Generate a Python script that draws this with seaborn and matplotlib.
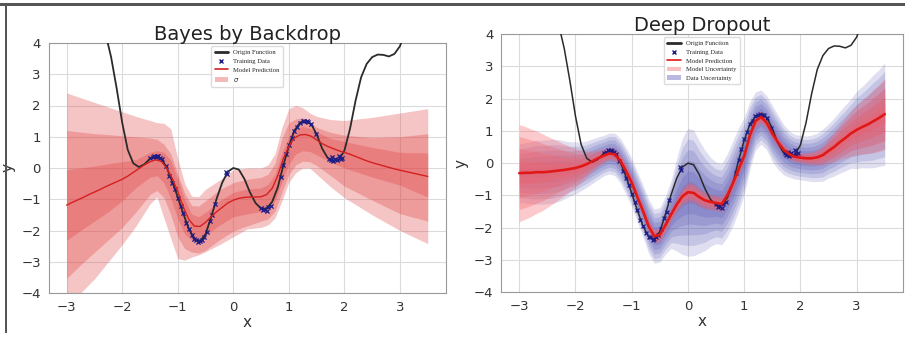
import numpy as np
import pandas as pd
import matplotlib
matplotlib.use("Agg")
import matplotlib.pyplot as plt
import seaborn as sns
from matplotlib.lines import Line2D
from matplotlib.patches import Patch, Rectangle

# ---------------- data ----------------
x_grid = np.round(np.arange(-3.0, 3.501, 0.1), 2)

origin_y = [12.0, 10.5, 9.1, 7.9, 6.8, 5.8, 5.0, 4.3, 3.55, 2.55,
            1.45, 0.58, 0.15, 0.03, 0.12, 0.3, 0.38, 0.3, 0.02, -0.43,
            -0.93, -1.46, -1.95, -2.27, -2.35, -2.12, -1.58, -0.98, -0.47, -0.12,
            0.0, -0.05, -0.35, -0.78, -1.12, -1.3, -1.3, -1.08, -0.62, 0.08,
            0.7, 1.2, 1.45, 1.52, 1.41, 1.08, 0.62, 0.32, 0.23, 0.26,
            0.56, 1.25, 2.15, 2.9, 3.33, 3.55, 3.63, 3.62, 3.57, 3.65,
            3.9, 4.4, 5.1, 5.9, 6.8, 7.8]

bbb_mean = [-1.19, -1.1, -1.02, -0.94, -0.85, -0.77, -0.69, -0.6, -0.52, -0.44,
            -0.36, -0.26, -0.14, -0.02, 0.1, 0.2, 0.26, 0.22, 0.0, -0.33,
            -0.75, -1.25, -1.65, -1.86, -1.87, -1.74, -1.56, -1.4, -1.26, -1.12,
            -1.03, -0.97, -0.94, -0.93, -0.93, -0.92, -0.85, -0.65, -0.25, 0.3,
            0.7, 0.96, 1.06, 1.07, 1.02, 0.9, 0.78, 0.69, 0.62, 0.55,
            0.5, 0.44, 0.37, 0.3, 0.23, 0.17, 0.12, 0.07, 0.02, -0.03,
            -0.07, -0.11, -0.15, -0.19, -0.23, -0.27]

# band edges of the Bayes-by-Backprop panel (1, 2, 3 sigma)
band_x = [-3, -2.75, -2.5, -2.25, -2, -1.75, -1.5, -1.375, -1.25, -1.125,
          -1, -0.875, -0.75, -0.625, -0.5, -0.25, 0, 0.25, 0.5, 0.625,
          0.75, 0.875, 1, 1.125, 1.25, 1.375, 1.5, 1.75, 2, 2.5, 3, 3.5]
band_up3 = [2.4, 2.25, 2.1, 1.95, 1.8, 1.65, 1.52, 1.45, 1.43, 1.25,
            0.3, -0.5, -0.9, -0.92, -0.68, -0.39, -0.06, 0.0, 0.0, 0.1,
            0.45, 1.3, 1.9, 2.0, 1.93, 1.76, 1.65, 1.55, 1.52, 1.62, 1.76, 1.9]
band_up2 = [1.2, 1.15, 1.1, 1.07, 1.03, 1.0, 0.96, 0.92, 0.76, 0.45,
            -0.2, -0.8, -1.2, -1.22, -1.05, -0.7, -0.47, -0.36, -0.3, -0.2,
            0.15, 0.95, 1.45, 1.57, 1.61, 1.45, 1.3, 1.14, 1.05, 0.97, 1.0, 1.1]
band_up1 = [-0.06, 0.0, 0.06, 0.14, 0.2, 0.27, 0.5, 0.56, 0.5, 0.25,
            -0.35, -1.0, -1.48, -1.56, -1.42, -1.05, -0.78, -0.67, -0.64, -0.52,
            -0.2, 0.48, 1.02, 1.27, 1.33, 1.27, 1.15, 0.95, 0.85, 0.66, 0.5, 0.48]
band_lo1 = [-2.31, -2.0, -1.7, -1.4, -1.05, -0.62, -0.3, -0.24, -0.47, -0.98,
            -1.62, -2.12, -2.3, -2.31, -2.16, -1.83, -1.56, -1.47, -1.39, -1.32,
            -1.05, -0.45, 0.12, 0.45, 0.55, 0.53, 0.42, 0.18, 0.0, -0.29, -0.55, -0.93]
band_lo2 = [-3.53, -3.1, -2.7, -2.3, -1.9, -1.4, -0.85, -0.72, -0.95, -1.5,
            -2.2, -2.58, -2.69, -2.72, -2.63, -2.3, -2.02, -1.85, -1.7, -1.63,
            -1.38, -0.78, -0.2, 0.1, 0.22, 0.2, 0.08, -0.24, -0.58, -1.03, -1.46, -1.7]
band_lo3 = [-4.8, -4.0, -3.55, -3.0, -2.45, -1.85, -1.15, -0.92, -1.6, -2.25,
            -2.9, -2.95, -2.85, -2.78, -2.68, -2.45, -2.2, -1.95, -1.9, -1.82,
            -1.6, -1.05, -0.45, -0.15, 0.0, 0.0, -0.2, -0.6, -0.95, -1.5, -2.0, -2.42]

dd_mean = [-0.31, -0.30, -0.30, -0.28, -0.28, -0.27, -0.25, -0.23, -0.21, -0.18,
           -0.15, -0.10, -0.03, 0.06, 0.15, 0.23, 0.30, 0.27, 0.07, -0.25,
           -0.60, -1.05, -1.48, -1.95, -2.26, -2.22, -1.92, -1.59, -1.28, -1.03,
           -0.90, -0.92, -1.05, -1.15, -1.20, -1.23, -1.27, -1.00, -0.62, -0.20,
           0.22, 0.85, 1.30, 1.43, 1.25, 0.92, 0.65, 0.42, 0.28, 0.20,
           0.17, 0.15, 0.15, 0.18, 0.25, 0.38, 0.50, 0.65, 0.78, 0.92,
           1.03, 1.12, 1.20, 1.30, 1.40, 1.52]
dd_model_sd = [0.75, 0.72, 0.68, 0.64, 0.6, 0.55, 0.5, 0.45, 0.4, 0.35,
               0.3, 0.25, 0.2, 0.16, 0.13, 0.11, 0.1, 0.1, 0.1, 0.1,
               0.1, 0.1, 0.1, 0.1, 0.11, 0.11, 0.1, 0.1, 0.11, 0.13,
               0.15, 0.15, 0.14, 0.13, 0.12, 0.12, 0.12, 0.11, 0.1, 0.1,
               0.1, 0.1, 0.1, 0.1, 0.1, 0.09, 0.08, 0.08, 0.08, 0.08,
               0.08, 0.09, 0.1, 0.12, 0.15, 0.19, 0.23, 0.27, 0.31, 0.35,
               0.38, 0.42, 0.45, 0.49, 0.52, 0.55]
dd_data_sd = [0.3, 0.31, 0.32, 0.33, 0.33, 0.33, 0.33, 0.32, 0.3, 0.28,
              0.27, 0.25, 0.24, 0.23, 0.22, 0.21, 0.21, 0.22, 0.23, 0.24,
              0.25, 0.26, 0.27, 0.28, 0.28, 0.28, 0.3, 0.35, 0.48, 0.6,
              0.66, 0.65, 0.58, 0.52, 0.46, 0.42, 0.42, 0.43, 0.44, 0.43,
              0.4, 0.35, 0.3, 0.28, 0.28, 0.29, 0.28, 0.26, 0.24, 0.23,
              0.23, 0.23, 0.24, 0.25, 0.27, 0.28, 0.3, 0.32, 0.34, 0.36,
              0.4, 0.42, 0.45, 0.48, 0.5, 0.53]

train_x = [-1.5, -1.45, -1.42, -1.4, -1.37, -1.35, -1.32, -1.28, -1.22, -1.15,
           -1.1, -1.05, -1.0, -0.95, -0.9, -0.85, -0.8, -0.75, -0.7, -0.67,
           -0.63, -0.6, -0.57, -0.53, -0.48, -0.42, -0.38, -0.33, -0.14, -0.12,
           0.5, 0.53, 0.56, 0.6, 0.63, 0.67, 0.85, 0.9, 0.95, 1.0,
           1.05, 1.1, 1.15, 1.2, 1.25, 1.28, 1.32, 1.35, 1.4, 1.48,
           1.72, 1.75, 1.78, 1.8, 1.83, 1.87, 1.9, 1.93, 1.95]
train_y = [0.32, 0.36, 0.4, 0.35, 0.4, 0.37, 0.33, 0.28, 0.08, -0.25,
           -0.47, -0.68, -0.95, -1.2, -1.45, -1.75, -1.95, -2.15, -2.28, -2.3,
           -2.38, -2.35, -2.3, -2.22, -2.05, -1.7, -1.5, -1.15, -0.12, -0.2,
           -1.28, -1.35, -1.32, -1.38, -1.25, -1.2, -0.3, 0.1, 0.45, 0.75,
           0.95, 1.2, 1.3, 1.45, 1.5, 1.52, 1.5, 1.48, 1.4, 1.1,
           0.3, 0.25, 0.35, 0.22, 0.3, 0.25, 0.4, 0.28, 0.32]

titles = ["Bayes by Backdrop", "Deep Dropout"]
x_ticks = [-3, -2, -1, 0, 1, 2, 3]
y_ticks = [-4, -3, -2, -1, 0, 1, 2, 3, 4]

# ---------------- style ----------------
sns.set_style("whitegrid", {"axes.edgecolor": "0.6", "grid.color": "0.86",
                            "axes.linewidth": 1.0})
plt.rcParams["font.family"] = ["DejaVu Sans"]

fig = plt.figure(figsize=(9.05, 3.38), dpi=100)
W, H = 905.0, 338.0
ax1 = fig.add_axes([48.6 / W, 1 - 293 / H, (445.8 - 48.6) / W, (293 - 43) / H])
ax2 = fig.add_axes([501 / W, 1 - 292.3 / H, (903 - 501) / W, (292.3 - 34) / H])

df = pd.DataFrame({"x": x_grid, "origin": origin_y, "bbb": bbb_mean,
                   "dd": dd_mean, "msd": dd_model_sd, "dsd": dd_data_sd})
tr = pd.DataFrame({"x": train_x, "y": train_y})

RED_BAND = (0.88, 0.24, 0.24)
BLUE_BAND = (0.24, 0.24, 0.66)
PINK_BAND = (0.97, 0.40, 0.42)
NAVY = "#1c1c86"

# ---- left panel ----
ax = ax1
for lo, up in [(band_lo3, band_up3), (band_lo2, band_up2), (band_lo1, band_up1)]:
    ax.fill_between(band_x, lo, up, color=RED_BAND, alpha=0.3, lw=0, zorder=2)
sns.lineplot(data=df, x="x", y="origin", ax=ax, color="#2b2b2b", lw=1.3,
             estimator=None, sort=False, zorder=4)
sns.scatterplot(data=tr, x="x", y="y", ax=ax, marker="x", color=NAVY, s=9,
                linewidth=0.9, zorder=5)
sns.lineplot(data=df, x="x", y="bbb", ax=ax, color="#d42020", lw=1.0,
             estimator=None, sort=False, zorder=6)
h1 = [Line2D([], [], color="#2b2b2b", lw=2),
      Line2D([], [], color=NAVY, marker="x", ls="", ms=3, mew=1),
      Line2D([], [], color="#d42020", lw=1.2),
      Patch(facecolor=(0.96, 0.72, 0.72), edgecolor="none")]
l1 = ["Origin Function", "Training Data", "Model Prediction", r"$\sigma$"]

# ---- right panel ----
ax = ax2
dd = np.array(dd_mean)
dsd = np.array(dd_data_sd)
msd = np.array(dd_model_sd)
for k in [3.0, 2.5, 2.0, 1.5, 1.0, 0.5]:
    ax.fill_between(x_grid, dd - k * dsd, dd + k * dsd, color=BLUE_BAND,
                    alpha=0.16, lw=0, zorder=2)
for k in [2.0, 1.5, 1.0, 0.5]:
    ax.fill_between(x_grid, dd - k * msd, dd + k * msd, color=PINK_BAND,
                    alpha=0.34, lw=0, zorder=3)
sns.lineplot(data=df, x="x", y="origin", ax=ax, color="#2b2b2b", lw=1.1,
             estimator=None, sort=False, zorder=4)
sns.scatterplot(data=tr, x="x", y="y", ax=ax, marker="x", color=NAVY, s=8,
                linewidth=0.9, zorder=5)
sns.lineplot(data=df, x="x", y="dd", ax=ax, color="#e01818", lw=1.9,
             estimator=None, sort=False, zorder=6)
h2 = [Line2D([], [], color="#2b2b2b", lw=2),
      Line2D([], [], color=NAVY, marker="x", ls="", ms=3, mew=1),
      Line2D([], [], color="#e01818", lw=1.2),
      Patch(facecolor=(0.97, 0.75, 0.75), edgecolor="none"),
      Patch(facecolor=(0.72, 0.72, 0.88), edgecolor="none")]
l2 = ["Origin Function", "Training Data", "Model Prediction",
      "Model Uncertainty", "Data Uncertainty"]

for ax, t, hh, ll in [(ax1, titles[0], h1, l1), (ax2, titles[1], h2, l2)]:
    ax.set_xlim(-3.325, 3.825)
    ax.set_ylim(-4, 4)
    ax.set_xticks(x_ticks)
    ax.set_yticks(y_ticks)
    ax.tick_params(labelsize=9.5, pad=2, colors="#333333")
    ax.set_xlabel("x", fontsize=11, labelpad=1, color="#333333")
    ax.set_ylabel("y", fontsize=11, labelpad=4, color="#333333")
    ax.set_title(t, fontsize=14, pad=2, color="#222222")
    leg = ax.legend(handles=hh, labels=ll, loc="upper center",
                    prop={"family": "Liberation Serif", "size": 4.8},
                    handlelength=2.0, labelspacing=0.45, borderpad=0.5,
                    handletextpad=0.8, framealpha=0.9, edgecolor="0.85",
                    fancybox=True, bbox_to_anchor=(0.5, 1.0))
    leg.set_zorder(10)

# outer frame marks of the image
fig.add_artist(Rectangle((0, 1 - 6 / H), 1, 3 / H, transform=fig.transFigure,
                         color="#555555", lw=0))
fig.add_artist(Rectangle((5 / W, 5 / H), 2 / W, 1 - 10 / H,
                         transform=fig.transFigure, color="#555555", lw=0))

fig.savefig("out.png", dpi=100)
